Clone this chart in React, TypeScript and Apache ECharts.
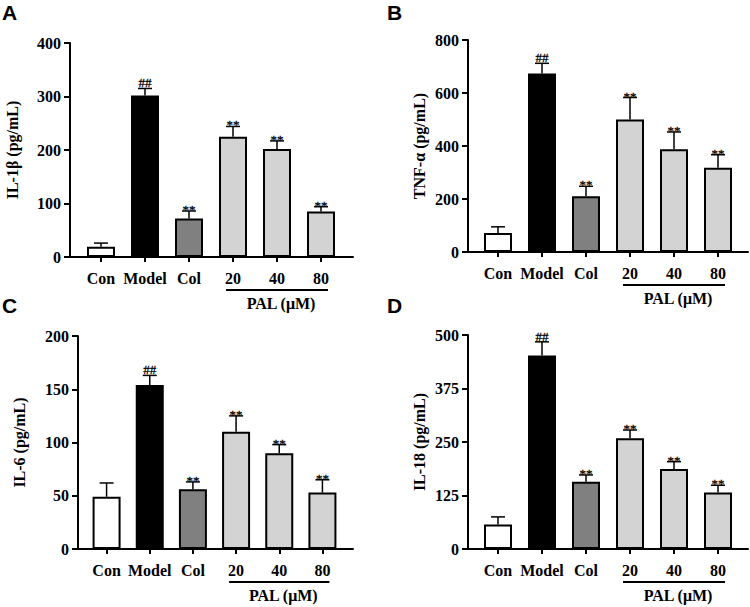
import React, { useEffect, useRef } from "react";
import * as echarts from "echarts";

const categories = ["Con", "Model", "Col", "20", "40", "80"];
const significance = ["", "##", "**", "**", "**", "**"];
const barColors = ["#ffffff", "#000000", "#808080", "#d3d3d3", "#d3d3d3", "#d3d3d3"];

const il1bMean = [19, 302, 72, 225, 202, 85];
const il1bErr = [7, 13, 14, 19, 15, 9];
const tnfMean = [72, 674, 210, 500, 388, 318];
const tnfErr = [23, 38, 38, 83, 65, 49];
const il6Mean = [49, 154, 56, 110, 90, 53];
const il6Err = [13, 9, 7, 15, 8, 12];
const il18Mean = [57, 452, 157, 259, 187, 132];
const il18Err = [18, 32, 16, 19, 17, 17];

const yTitles = ["IL-1β (pg/mL)", "TNF-α (pg/mL)", "IL-6 (pg/mL)", "IL-18 (pg/mL)"];
const yMax = [400, 800, 200, 500];
const yStep = [100, 200, 50, 125];
const panelLetters = ["A", "B", "C", "D"];
const groupLabel = "PAL (μM)";

const means = [il1bMean, tnfMean, il6Mean, il18Mean];
const errs = [il1bErr, tnfErr, il6Err, il18Err];

// layout (pixels)
const layout = [
  { axisLeft: 70, axisWidth: 283, barLeft: 79, barWidth: 264, top: 43, height: 214, nameGap: 50, letterX: 2, letterY: 2 },
  { axisLeft: 468, axisWidth: 280, barLeft: 476, barWidth: 264, top: 40, height: 212, nameGap: 41, letterX: 387, letterY: 2 },
  { axisLeft: 78, axisWidth: 275, barLeft: 85, barWidth: 259, top: 336, height: 213, nameGap: 51, letterX: 2, letterY: 295 },
  { axisLeft: 468, axisWidth: 280, barLeft: 476, barWidth: 264, top: 335, height: 214, nameGap: 41, letterX: 387, letterY: 295 },
];

const SERIF = "Liberation Serif";

export default function App() {
  const ref = useRef<HTMLDivElement>(null);

  useEffect(() => {
    if (!ref.current) return;
    const chart = echarts.init(ref.current, null, { renderer: "svg" });

    const grid: any[] = [];
    const xAxis: any[] = [];
    const yAxis: any[] = [];
    const series: any[] = [];

    layout.forEach((L, i) => {
      const outer = i * 2;
      const inner = i * 2 + 1;
      grid.push({ left: L.axisLeft, top: L.top, width: L.axisWidth, height: L.height, containLabel: false });
      grid.push({ left: L.barLeft, top: L.top, width: L.barWidth, height: L.height, containLabel: false });

      xAxis.push({
        type: "value",
        gridIndex: outer,
        min: 0,
        max: 1,
        axisLine: { show: true, lineStyle: { color: "#000", width: 2 } },
        axisTick: { show: false },
        axisLabel: { show: false },
        splitLine: { show: false },
      });
      xAxis.push({
        type: "category",
        gridIndex: inner,
        data: categories,
        axisLine: { show: false },
        axisTick: { show: true, alignWithLabel: true, length: 5, lineStyle: { color: "#000", width: 2 } },
        axisLabel: { color: "#000", fontFamily: SERIF, fontWeight: "bold", fontSize: 16, margin: 13, interval: 0 },
        splitLine: { show: false },
      });

      yAxis.push({
        type: "value",
        gridIndex: outer,
        min: 0,
        max: yMax[i],
        interval: yStep[i],
        name: yTitles[i],
        nameLocation: "middle",
        nameGap: L.nameGap,
        nameTextStyle: { color: "#000", fontFamily: SERIF, fontWeight: "bold", fontSize: 16 },
        axisLine: { show: true, lineStyle: { color: "#000", width: 2 } },
        axisTick: { show: true, length: 6, lineStyle: { color: "#000", width: 2 } },
        axisLabel: { color: "#000", fontFamily: SERIF, fontWeight: "bold", fontSize: 16, margin: 9 },
        splitLine: { show: false },
      });
      yAxis.push({
        type: "value",
        gridIndex: inner,
        min: 0,
        max: yMax[i],
        interval: yStep[i],
        show: false,
        splitLine: { show: false },
      });

      series.push({
        type: "bar",
        xAxisIndex: inner,
        yAxisIndex: inner,
        barWidth: 28,
        data: means[i].map((v, k) => ({
          value: v,
          itemStyle: { color: barColors[k], borderColor: "#000", borderWidth: 2 },
        })),
      });

      const m = means[i];
      const e = errs[i];
      series.push({
        type: "custom",
        xAxisIndex: inner,
        yAxisIndex: inner,
        z: 5,
        itemStyle: { color: "#000" },
        data: m.map((v, k) => [k, v, e[k]]),
        renderItem: (params: any, api: any) => {
          const xi = api.value(0);
          const mv = api.value(1);
          const ev = api.value(2);
          const p0 = api.coord([xi, mv]);
          const p1 = api.coord([xi, mv + ev]);
          const half = 7;
          const lab = significance[params.dataIndex];
          const children: any[] = [
            { type: "line", shape: { x1: p0[0], y1: p0[1], x2: p1[0], y2: p1[1] }, style: { stroke: "#000", lineWidth: 1.5 } },
            { type: "line", shape: { x1: p1[0] - half, y1: p1[1], x2: p1[0] + half, y2: p1[1] }, style: { stroke: "#000", lineWidth: 1.5 } },
          ];
          if (lab) {
            children.push({
              type: "text",
              x: p1[0],
              y: p1[1] + (lab === "**" ? 5 : 1),
              style: {
                text: lab,
                fontSize: 13,
                fontFamily: SERIF,
                fill: "#000",
                stroke: "#000",
                lineWidth: 0.3,
                align: "center",
                verticalAlign: "bottom",
              },
            });
          }
          return { type: "group", children };
        },
      });
    });

    chart.setOption({
      animation: false,
      backgroundColor: "#ffffff",
      color: ["#000000"],
      grid,
      xAxis,
      yAxis,
      series,
    });

    const graphic: any[] = [];
    layout.forEach((L, i) => {
      const inner = i * 2 + 1;
      const x20 = chart.convertToPixel({ xAxisIndex: inner } as any, 3) as any as number;
      const x80 = chart.convertToPixel({ xAxisIndex: inner } as any, 5) as any as number;
      const y0 = chart.convertToPixel({ yAxisIndex: inner } as any, 0) as any as number;
      const ly = y0 + 33;
      graphic.push({
        type: "line",
        shape: { x1: x20 - 7, y1: ly, x2: x80 + 7, y2: ly },
        style: { stroke: "#000", lineWidth: 2 },
      });
      graphic.push({
        type: "text",
        x: (x20 + x80) / 2 + 4,
        y: y0 + 46,
        style: {
          text: groupLabel,
          fontSize: 16,
          fontWeight: "bold",
          fontFamily: SERIF,
          fill: "#000",
          align: "center",
          verticalAlign: "middle",
        },
      });
      graphic.push({
        type: "text",
        x: L.letterX,
        y: L.letterY,
        style: {
          text: panelLetters[i],
          fontSize: 21,
          fontWeight: "bold",
          fontFamily: "Liberation Sans",
          fill: "#000",
          align: "left",
          verticalAlign: "top",
        },
      });
    });
    chart.setOption({ graphic });

    return () => chart.dispose();
  }, []);

  return (
    <div
      ref={ref}
      style={{ position: "fixed", left: 0, top: 0, width: 750, height: 607, background: "#fff" }}
    />
  );
}
